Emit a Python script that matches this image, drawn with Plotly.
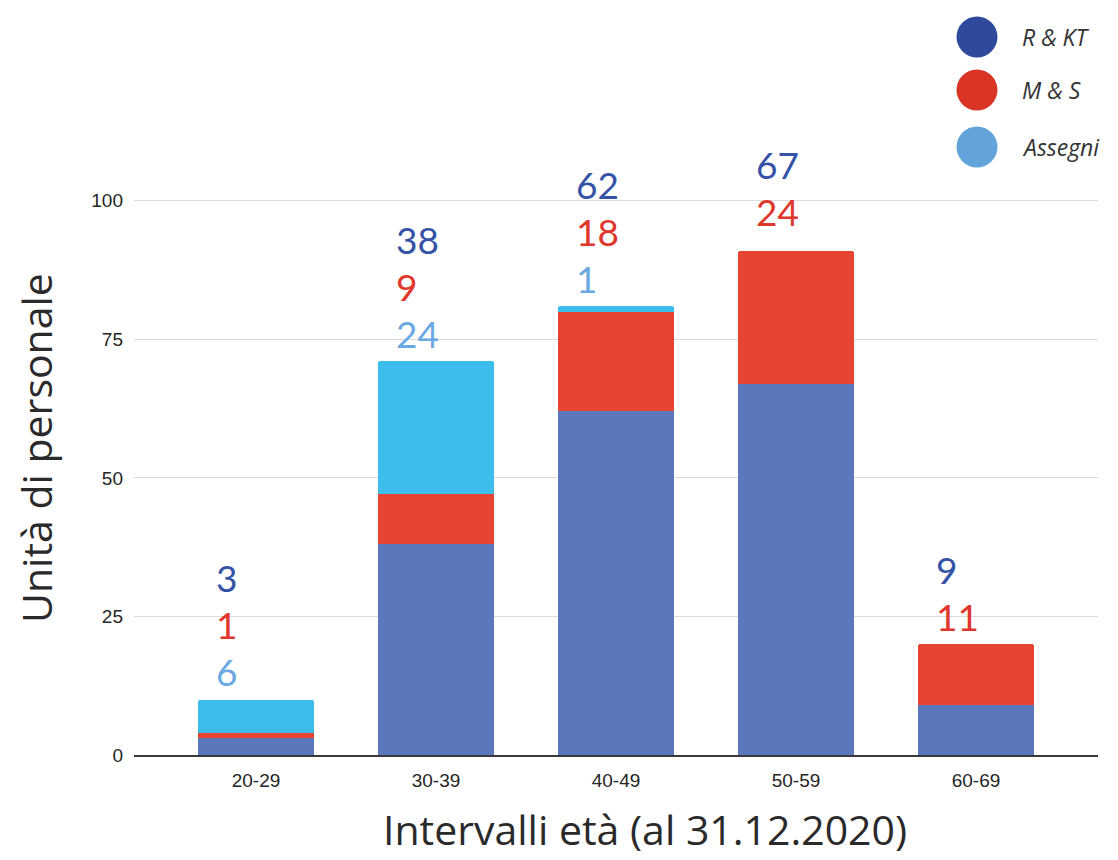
import plotly.graph_objects as go

# Age brackets and staff counts per contract type
categories = ["20-29", "30-39", "40-49", "50-59", "60-69"]
r_kt = [3, 38, 62, 67, 9]
m_s = [1, 9, 18, 24, 11]
assegni = [6, 24, 1, 0, 0]

series_names = ["R & KT", "M & S", "Assegni"]
y_ticks = [0, 25, 50, 75, 100]

# Styling
BAR_COLORS = {"R & KT": "#5A78BB", "M & S": "#E74434", "Assegni": "#3CBDEC"}
LABEL_COLORS = {"R & KT": "#3553A6", "M & S": "#E0362C", "Assegni": "#6AA9E2"}
LEGEND_COLORS = {"R & KT": "#2F4A9B", "M & S": "#D93424", "Assegni": "#62A3DA"}
LABEL_LIFT = [0, 0, 0, 11, 0]  # extra pixel lift of the label stack per bar

W, H = 1118, 860
M_L, M_R, M_T, M_B = 134, 20, 173, 105
PLOT_W = W - M_L - M_R
PLOT_H = H - M_T - M_B


def px_to_paper_x(px):
    return (px - M_L) / PLOT_W


def px_to_paper_y(py):
    return (H - M_B - py) / PLOT_H


values = {"R & KT": r_kt, "M & S": m_s, "Assegni": assegni}

fig = go.Figure()
for name in series_names:
    fig.add_trace(go.Bar(
        x=categories,
        y=values[name],
        name=name,
        marker=dict(color=BAR_COLORS[name], line=dict(width=0)),
        width=0.645,
        showlegend=False,
    ))

# Value labels stacked above each bar (lowest: Assegni, then M & S, then R & KT)
annotations = []
for i, cat in enumerate(categories):
    total = r_kt[i] + m_s[i] + assegni[i]
    k = 0
    for name in ["Assegni", "M & S", "R & KT"]:
        v = values[name][i]
        if v == 0:
            continue
        annotations.append(dict(
            x=i - 0.235, y=total, xref="x", yref="y",
            text=str(v), showarrow=False,
            xanchor="left", yanchor="middle",
            yshift=28 + 47 * k + LABEL_LIFT[i],
            font=dict(family="Lato", size=37, color=LABEL_COLORS[name]),
        ))
        k += 1

# Custom legend: circles with italic labels
legend_rows_px = [37, 90, 147]
shapes = []
for name, cy in zip(series_names, legend_rows_px):
    shapes.append(dict(
        type="circle", xref="paper", yref="paper",
        xsizemode="pixel", ysizemode="pixel",
        xanchor=px_to_paper_x(977), yanchor=px_to_paper_y(cy),
        x0=-20.5, x1=20.5, y0=-20.5, y1=20.5,
        fillcolor=LEGEND_COLORS[name], line=dict(width=0),
    ))
    annotations.append(dict(
        x=px_to_paper_x(1020), y=px_to_paper_y(cy),
        xref="paper", yref="paper", xanchor="left", yanchor="middle",
        text=f"<i>{name}</i>", showarrow=False,
        font=dict(family="Open Sans", size=23, color="#333333"),
    ))

# Axis titles
annotations.append(dict(
    x=px_to_paper_x(645), y=px_to_paper_y(859), xref="paper", yref="paper",
    xanchor="center", yanchor="bottom", showarrow=False,
    text="Intervalli età (al 31.12.2020)",
    font=dict(family="Open Sans", size=41, color="#2A2A2A"),
))
annotations.append(dict(
    x=px_to_paper_x(36), y=px_to_paper_y(448), xref="paper", yref="paper",
    xanchor="center", yanchor="middle", showarrow=False, textangle=-90,
    text="Unità di personale",
    font=dict(family="Open Sans", size=41, color="#2A2A2A"),
))

fig.update_layout(
    width=W, height=H,
    margin=dict(l=M_L, r=M_R, t=M_T, b=M_B, pad=0),
    paper_bgcolor="white", plot_bgcolor="white",
    barmode="stack", bargap=0, barcornerradius=3,
    annotations=annotations, shapes=shapes,
    showlegend=False,
    xaxis=dict(
        type="category", range=[-0.678, 4.678],
        showgrid=False, zeroline=False,
        showline=True, linecolor="#3A3A3A", linewidth=1.5,
        ticks="", ticklabelstandoff=7,
        tickfont=dict(family="Liberation Sans", size=19, color="#262626"),
    ),
    yaxis=dict(
        range=[0, 105], tickvals=y_ticks,
        showgrid=True, gridcolor="#DADADA", gridwidth=1,
        zeroline=False, showline=False, ticks="",
        tickfont=dict(family="Liberation Sans", size=19, color="#262626"),
        ticklabelstandoff=10,
    ),
)

fig.write_html("out.html")
